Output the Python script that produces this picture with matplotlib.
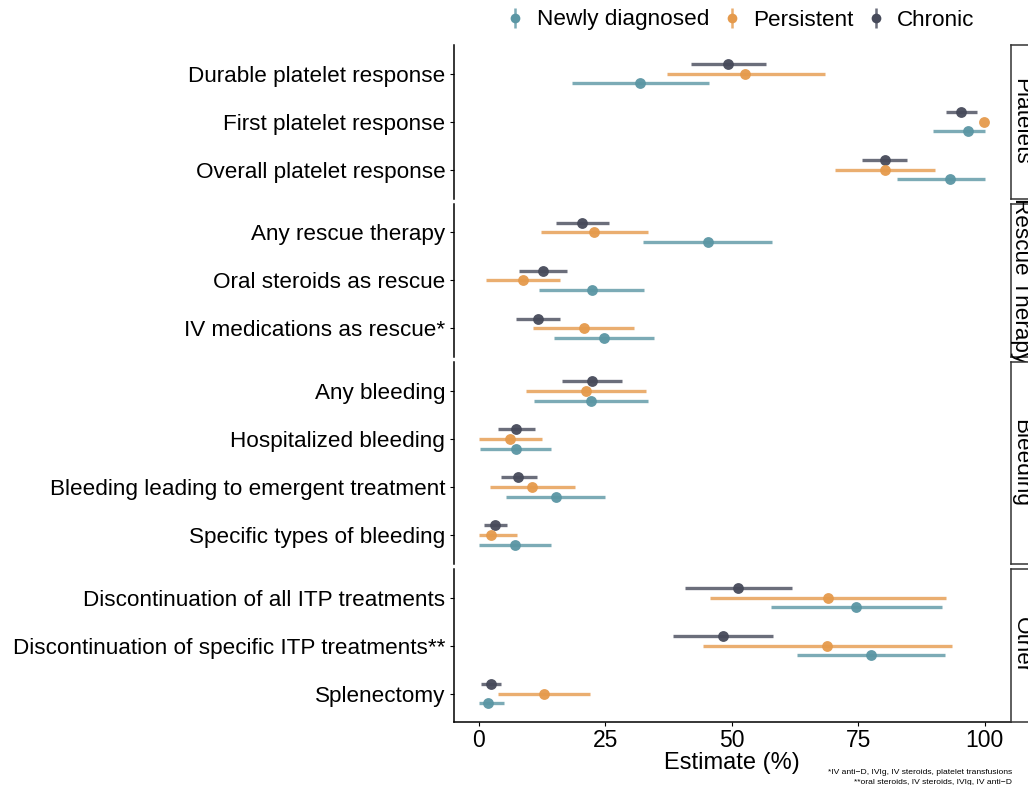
import numpy as np
import matplotlib
matplotlib.use('Agg')
import matplotlib.pyplot as plt
from matplotlib.lines import Line2D
from matplotlib.legend_handler import HandlerTuple

plt.rcParams['font.family'] = ['Liberation Sans', 'DejaVu Sans']

# facets and outcomes (top to bottom)
groups = ['Platelets', 'Rescue Therapy', 'Bleeding', 'Other']
outcomes = [
    ['Durable platelet response', 'First platelet response', 'Overall platelet response'],
    ['Any rescue therapy', 'Oral steroids as rescue', 'IV medications as rescue*'],
    ['Any bleeding', 'Hospitalized bleeding', 'Bleeding leading to emergent treatment',
     'Specific types of bleeding'],
    ['Discontinuation of all ITP treatments', 'Discontinuation of specific ITP treatments**',
     'Splenectomy'],
]

series = ['Newly diagnosed', 'Persistent', 'Chronic']
colors = ['#5b96a4', '#e59a4c', '#464a5a']

# estimates and 95% CI, same order as outcomes flattened
newly_est = [31.9, 96.6, 93.1, 45.2, 22.3, 24.7, 22.1, 7.3, 15.2, 7.1, 74.6, 77.5, 1.8]
newly_lo = [18.4, 89.8, 82.7, 32.4, 11.9, 14.8, 10.8, 0.2, 5.4, 0.0, 57.8, 62.9, 0.0]
newly_hi = [45.5, 100.0, 100.0, 57.9, 32.7, 34.7, 33.5, 14.2, 24.9, 14.3, 91.5, 92.2, 5.0]

pers_est = [52.6, 99.8, 80.3, 22.8, 8.7, 20.8, 21.2, 6.1, 10.5, 2.4, 69.0, 68.9, 12.8]
pers_lo = [37.1, 99.8, 70.3, 12.3, 1.3, 10.7, 9.2, 0.0, 2.1, 0.0, 45.6, 44.2, 3.7]
pers_hi = [68.4, 99.8, 90.2, 33.4, 16.0, 30.7, 33.1, 12.4, 18.9, 7.5, 92.4, 93.6, 22.0]

chron_est = [49.3, 95.3, 80.2, 20.4, 12.7, 11.6, 22.3, 7.3, 7.8, 3.2, 51.2, 48.2, 2.3]
chron_lo = [41.9, 92.4, 75.8, 15.2, 7.9, 7.3, 16.4, 3.8, 4.3, 1.0, 40.7, 38.4, 0.3]
chron_hi = [56.7, 98.4, 84.7, 25.7, 17.5, 16.1, 28.3, 11.1, 11.4, 5.5, 61.9, 58.1, 4.3]

est = [newly_est, pers_est, chron_est]
lo = [newly_lo, pers_lo, chron_lo]
hi = [newly_hi, pers_hi, chron_hi]
offsets = [0.2, 0.0, -0.2]

footnote = ['*IV anti\u2212D, IVIg, IV steroids, platelet transfusions',
            '**oral steroids, IV steroids, IVIg, IV anti\u2212D']

W, H = 1028, 785
fig = plt.figure(figsize=(W / 100, H / 100), dpi=100)

left_px, right_px = 453.7, 1011
row_px = 48.0
gap_px = 5.0
top_px = 45.0
fs = 16.2

start = 0
for g, (gname, outs) in enumerate(zip(groups, outcomes)):
    n = len(outs)
    h_px = (n - 1 + 1.2) * row_px
    bot_px = top_px + h_px
    ax = fig.add_axes([left_px / W, 1 - bot_px / H, (right_px - left_px) / W, h_px / H])
    y = np.arange(n)
    for s in [2, 1, 0]:
        e = np.array(est[s][start:start + n])
        l = np.array(lo[s][start:start + n])
        u = np.array(hi[s][start:start + n])
        ax.hlines(y + offsets[s], l, u, color=colors[s], lw=2.4, alpha=0.8, zorder=2)
        ax.plot(e, y + offsets[s], 'o', ms=7.8, color=colors[s], alpha=0.95, zorder=3,
                markeredgewidth=0)
    ax.set_ylim(n - 1 + 0.6, -0.6)
    ax.set_xlim(-5.0, 105.2)
    ax.set_yticks(y)
    ax.set_yticklabels(outs, fontsize=fs)
    for sp in ['top', 'right']:
        ax.spines[sp].set_visible(False)
    ax.spines['left'].set_linewidth(1.1)
    ax.tick_params(axis='y', length=3, width=0.8, pad=3)
    if g == len(groups) - 1:
        ax.spines['bottom'].set_linewidth(1.1)
        ax.set_xticks([0, 25, 50, 75, 100])
        ax.tick_params(axis='x', labelsize=fs + 0.3, length=3, width=0.8, pad=2)
        ax.set_xlabel('Estimate (%)', fontsize=17, labelpad=0)
    else:
        ax.spines['bottom'].set_visible(False)
        ax.set_xticks([])

    # facet strip on the right
    sax = fig.add_axes([right_px / W, 1 - bot_px / H, 40 / W, h_px / H])
    sax.set_xticks([])
    sax.set_yticks([])
    for sp in sax.spines.values():
        sp.set_linewidth(1.1)
        sp.set_color('#333333')
    sax.text(0.25, 0.5, gname, rotation=-90, ha='center', va='center',
             fontsize=fs, transform=sax.transAxes)

    top_px = bot_px + gap_px
    start += n

handles = []
for c in colors:
    handles.append((Line2D([], [], color=c, lw=0, marker='|', ms=14, mew=1.8, alpha=0.8),
                    Line2D([], [], color=c, lw=0, marker='o', ms=7, mew=0)))
fig.legend(handles, series, loc='center', bbox_to_anchor=(740 / W, 1 - 20 / H), ncol=3,
           frameon=False, fontsize=fs, handler_map={tuple: HandlerTuple(ndivide=1)},
           handlelength=0.9, handletextpad=0.5, columnspacing=0.55)

fig.text(1012 / W, 1 - 773 / H, footnote[0], ha='right', va='center', fontsize=6.1)
fig.text(1012 / W, 1 - 782 / H, footnote[1], ha='right', va='center', fontsize=6.1)

fig.savefig('out.png', dpi=100)
